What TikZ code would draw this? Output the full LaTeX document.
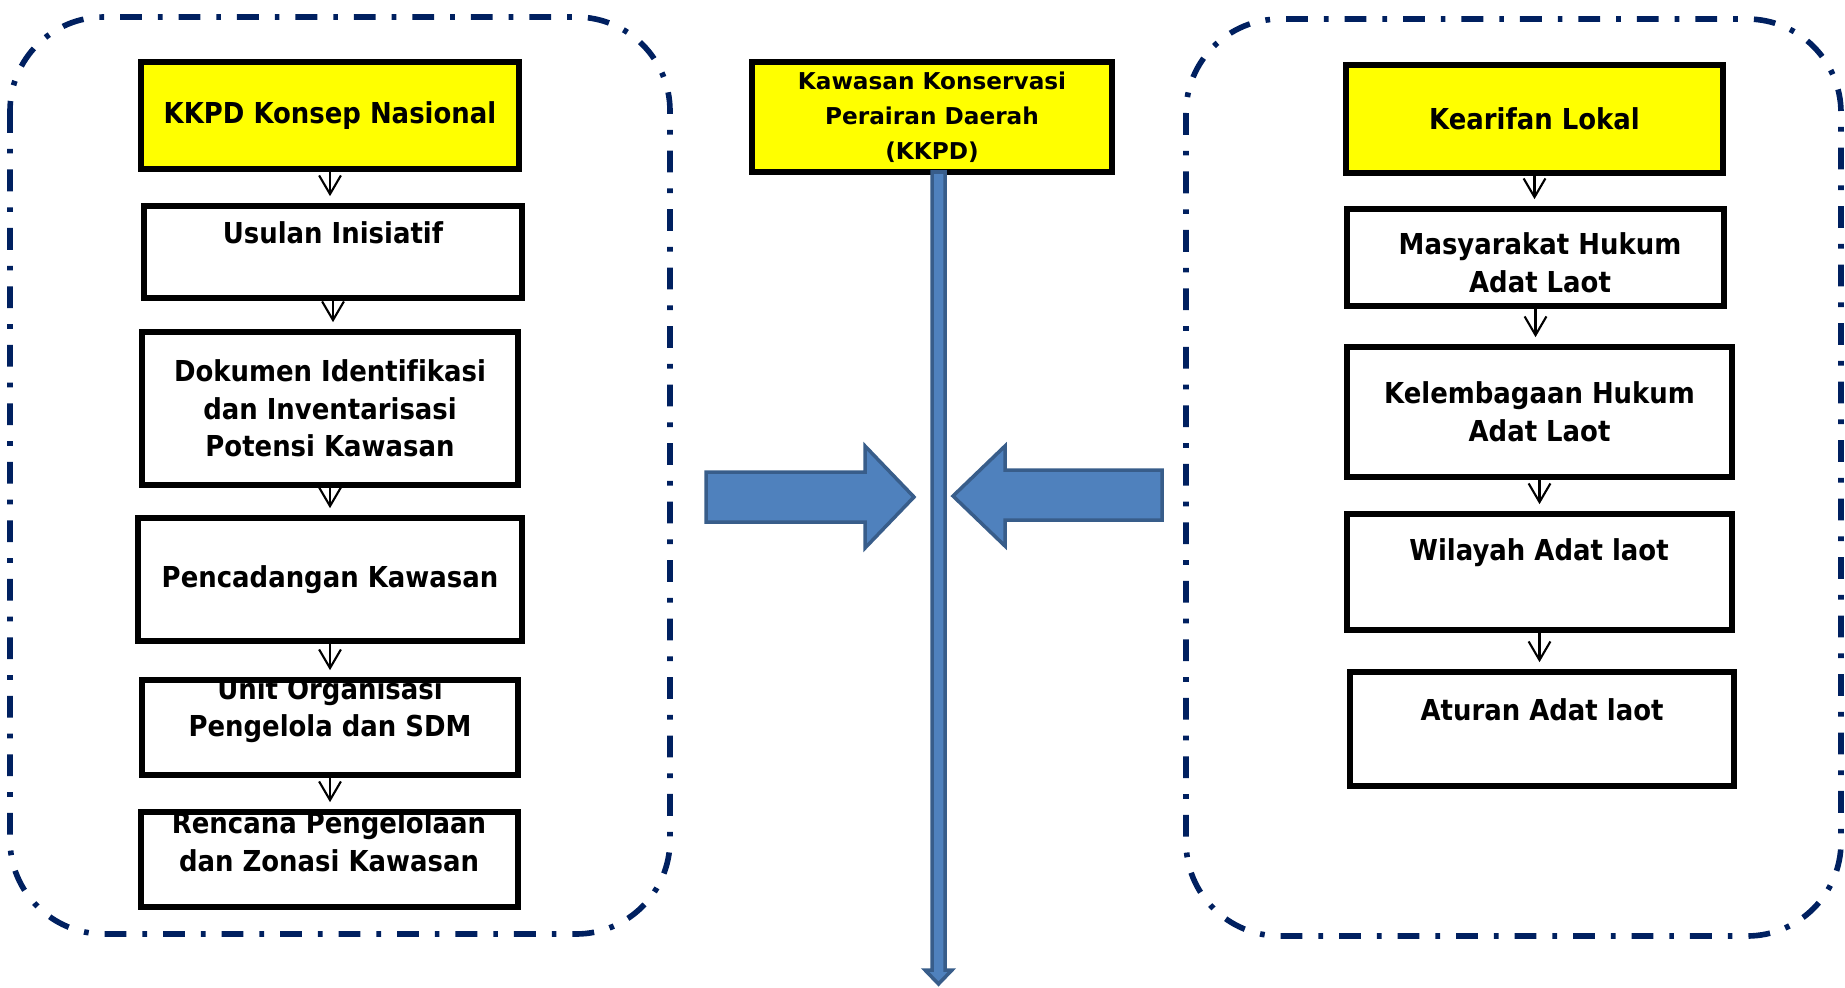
\documentclass[tikz,border=0pt]{standalone}
\usepackage{fontspec}
\newfontfamily\hurufkotak[FakeStretch=0.9,Ligatures=NoCommon]{DejaVu Sans}
\newfontfamily\hurufpusat[Ligatures=NoCommon]{DejaVu Sans}
\usetikzlibrary{positioning,calc,arrows.meta}
\definecolor{kuning}{RGB}{255,255,0}
\definecolor{garis}{RGB}{0,32,96}
\definecolor{biru}{RGB}{79,129,189}
\definecolor{birutua}{RGB}{56,93,138}

\begin{document}
\begin{tikzpicture}[>={Straight Barb[length=5.3pt,width=6.2pt]}]
	\useasboundingbox (0,0) rectangle (18.45,-9.87);
	\begin{scope}
		\tikzstyle{bingkai}=[draw=garis, line width=1.6pt, rounded corners=0.94cm, dash pattern=on 6.2pt off 4.55pt on 1.34pt off 4.55pt]
		\tikzstyle{kotak}=[draw, line width=1.6pt, inner sep=0pt, align=center, font=\hurufkotak\bfseries\fontsize{8.2}{10.7}\selectfont]
		\tikzstyle{teks}=[inner sep=0pt, align=center, font=\hurufkotak\bfseries\fontsize{8.2}{10.7}\selectfont]
		\tikzstyle{panah}=[->, line width=0.6pt, shorten >=2pt]
		\tikzstyle{blok}=[fill=biru, draw=birutua, line width=1pt, line join=miter]

		% bingkai kiri dan kanan
		\draw [bingkai] (0.10,-0.17) rectangle (6.70,-9.34);
		\draw [bingkai] (11.86,-0.19) rectangle (18.41,-9.36);

		% konsep nasional
		\node[teks] (usulant) at (3.33,-2.33) {Usulan Inisiatif};
		\node[teks] (unitt) at (3.30,-7.10) {Unit Organisasi\\Pengelola dan SDM};
		\node[teks] (rencanat) at (3.29,-8.42) {Rencana Pengelolaan\\dan Zonasi Kawasan};

		\node[kotak, fill=kuning, minimum width=3.78cm, minimum height=1.07cm] (kkpd) at (3.30,-1.155) {KKPD Konsep Nasional};
		\node[kotak, minimum width=3.78cm, minimum height=0.92cm] (usulan) at (3.33,-2.52) {};
		\node[kotak, minimum width=3.76cm, minimum height=1.53cm] (dokumen) at (3.30,-4.085) {Dokumen Identifikasi\\dan Inventarisasi\\Potensi Kawasan};
		\node[kotak, minimum width=3.84cm, minimum height=1.23cm] (cadang) at (3.30,-5.795) {Pencadangan Kawasan};
		\node[kotak, minimum width=3.76cm, minimum height=0.95cm] (unit) at (3.30,-7.275) {};
		\node[kotak, minimum width=3.77cm, minimum height=0.95cm] (rencana) at (3.295,-8.595) {};

		\draw [panah] (kkpd.south) to (kkpd.south |- usulan.north);
		\draw [panah] (usulan.south) to (usulan.south |- dokumen.north);
		\draw [panah] (dokumen.south) to (dokumen.south |- cadang.north);
		\draw [panah] (cadang.south) to (cadang.south |- unit.north);
		\draw [panah] (unit.south) to (unit.south |- rencana.north);

		% kearifan lokal
		\node[teks] (masyt) at (15.40,-2.63) {Masyarakat Hukum\\Adat Laot};
		\node[teks] (wilayaht) at (15.39,-5.53) {Wilayah Adat laot};
		\node[teks] (aturant) at (15.42,-7.095) {Aturan Adat laot};

		\node[kotak, fill=kuning, minimum width=3.77cm, minimum height=1.08cm] (kearifan) at (15.345,-1.19) {Kearifan Lokal};
		\node[kotak, minimum width=3.77cm, minimum height=0.97cm] (masy) at (15.355,-2.575) {};
		\node[kotak, minimum width=3.85cm, minimum height=1.30cm] (lembaga) at (15.395,-4.12) {Kelembagaan Hukum\\Adat Laot};
		\node[kotak, minimum width=3.85cm, minimum height=1.16cm] (wilayah) at (15.395,-5.72) {};
		\node[kotak, minimum width=3.84cm, minimum height=1.14cm] (aturan) at (15.42,-7.29) {};

		\draw [panah] (kearifan.south) to (kearifan.south |- masy.north);
		\draw [panah] (masy.south) to (masy.south |- lembaga.north);
		\draw [panah] (lembaga.south) to (lembaga.south |- wilayah.north);
		\draw [panah] (wilayah.south) to (wilayah.south |- aturan.north);

		% KKPD di tengah
		\node[kotak, fill=kuning, minimum width=3.60cm, minimum height=1.10cm, font=\hurufpusat\bfseries\fontsize{6.6}{10}\selectfont] (pusat) at (9.32,-1.17) {Kawasan Konservasi\\Perairan Daerah\\(KKPD)};
		\coordinate (ujung) at (9.385,-9.84);
		\draw [blok] (9.32,-1.72) -- (9.45,-1.72) -- (9.45,-9.70) -- (9.52,-9.70) -- (ujung) -- (9.25,-9.70) -- (9.32,-9.70) -- cycle;

		\draw [blok] (7.06,-4.72) -- (8.65,-4.72) -- (8.65,-4.46) -- (9.14,-4.97) -- (8.65,-5.48) -- (8.65,-5.22) -- (7.06,-5.22) -- cycle;
		\draw [blok] (11.62,-4.70) -- (10.05,-4.70) -- (10.05,-4.46) -- (9.53,-4.96) -- (10.05,-5.46) -- (10.05,-5.20) -- (11.62,-5.20) -- cycle;
	\end{scope}
\end{tikzpicture}
\end{document}
